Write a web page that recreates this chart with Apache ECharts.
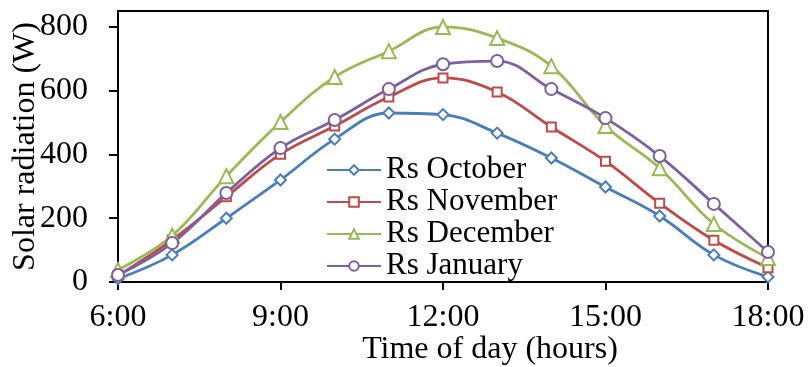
<!DOCTYPE html>
<html>
<head>
<meta charset="utf-8">
<script src="https://cdn.jsdelivr.net/npm/echarts@6/dist/echarts.min.js"></script>
<style>
  html, body { margin: 0; padding: 0; background: #fff; }
  #chart { width: 808px; height: 367px; }
</style>
</head>
<body>
<div id="chart"></div>
<script>
// Hour of day for each reading
const hours = [6, 7, 8, 9, 10, 11, 12, 13, 14, 15, 16, 17, 18];

// Solar radiation (W) per month
const rsOctober  = [10, 85, 200, 320, 448, 530, 525, 467, 389, 298, 207, 85, 16];
const rsNovember = [20, 132, 267, 401, 489, 580, 640, 596, 486, 379, 247, 131, 45];
const rsDecember = [38, 145, 332, 502, 643, 724, 800, 765, 677, 489, 357, 182, 75];
const rsJanuary  = [22, 122, 279, 420, 508, 605, 683, 693, 605, 514, 395, 245, 94];

const seriesNames = ['Rs October', 'Rs November', 'Rs December', 'Rs January'];
const xTickHours = [6, 9, 12, 15, 18];

const font = '"Liberation Serif", "Times New Roman", serif';

function pairs(values) {
  return hours.map((h, i) => [h, values[i]]);
}

function makeSeries(name, values, color, symbol, size) {
  return {
    name: name,
    type: 'line',
    data: pairs(values),
    smooth: 0.4,
    symbol: symbol,
    symbolSize: size,
    showSymbol: true,
    lineStyle: { color: color, width: 2.8 },
    itemStyle: { color: color, borderColor: color, borderWidth: 1.6 },
    emphasis: { disabled: true }
  };
}

const chart = echarts.init(document.getElementById('chart'), null, { renderer: 'canvas' });

chart.setOption({
  animation: false,
  backgroundColor: '#ffffff',
  grid: {
    left: 118, right: 40, top: 11, bottom: 85,
    containLabel: false,
    outerBoundsMode: 'none',
    show: true, borderColor: '#000', borderWidth: 2
  },
  legend: {
    orient: 'vertical',
    left: 321, top: 149,
    itemWidth: 54, itemHeight: 12, itemGap: 0,
    data: seriesNames,
    textStyle: { fontFamily: font, fontSize: 31, lineHeight: 32, color: '#000' }
  },
  xAxis: {
    type: 'value',
    min: 6, max: 18, interval: 3,
    name: 'Time of day (hours)',
    nameLocation: 'middle',
    nameGap: 52,
    nameMoveOverlap: false,
    nameTextStyle: { fontFamily: font, fontSize: 32, color: '#000', padding: [0, 0, 0, 94] },
    axisLine: { show: true, lineStyle: { color: '#000', width: 2 } },
    axisTick: { show: true, inside: false, length: 8, lineStyle: { color: '#000', width: 2 } },
    axisLabel: {
      margin: 20,
      fontFamily: font, fontSize: 32, color: '#000',
      formatter: v => xTickHours.includes(v) ? v + ':00' : ''
    },
    splitLine: { show: false }
  },
  yAxis: {
    type: 'value',
    min: 0, max: 850, interval: 200,
    name: 'Solar radiation (W)',
    nameLocation: 'middle',
    nameGap: 76,
    nameMoveOverlap: false,
    nameTextStyle: { fontFamily: font, fontSize: 32, color: '#000' },
    axisLine: { show: true, lineStyle: { color: '#000', width: 2 } },
    axisTick: { show: true, inside: false, length: 9, lineStyle: { color: '#000', width: 2 } },
    axisLabel: {
      margin: 30, showMaxLabel: false,
      fontFamily: font, fontSize: 32, color: '#000'
    },
    splitLine: { show: false }
  },
  series: [
    makeSeries(seriesNames[0], rsOctober,  '#4A7EBB', 'emptyDiamond', 11),
    makeSeries(seriesNames[1], rsNovember, '#BE4B48', 'emptyRect', 9),
    makeSeries(seriesNames[2], rsDecember, '#98B954', 'emptyTriangle', 14),
    makeSeries(seriesNames[3], rsJanuary,  '#7D60A0', 'emptyCircle', 12)
  ]
});
</script>
</body>
</html>
